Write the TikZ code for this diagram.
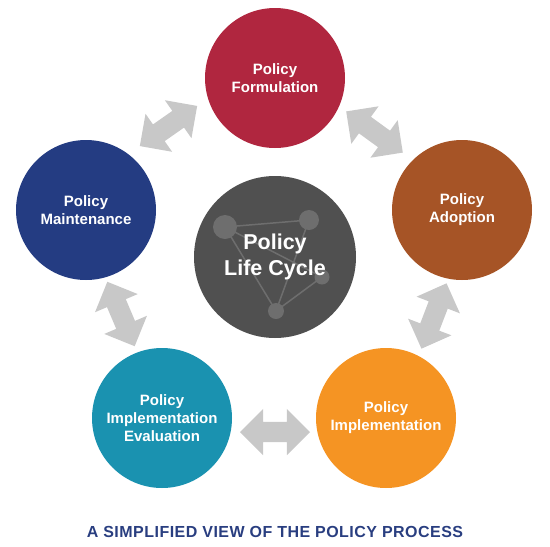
\documentclass[tikz,border=0pt]{standalone}
\usepackage{fontspec}
\setmainfont{Liberation Sans}
\usetikzlibrary{shapes.arrows,calc}

\definecolor{formred}{HTML}{B0263F}
\definecolor{adoptbrown}{HTML}{A65426}
\definecolor{implorange}{HTML}{F59423}
\definecolor{evalteal}{HTML}{1A92B0}
\definecolor{maintblue}{HTML}{243C82}
\definecolor{coregray}{HTML}{505050}
\definecolor{netgray}{HTML}{6E6E6E}
\definecolor{swapgray}{HTML}{C8C8C8}
\definecolor{titleblue}{HTML}{293E80}

\begin{document}
\begin{tikzpicture}[x=1pt, y=-1pt,
	stage/.style={circle, minimum size=140pt, inner sep=0pt, text=white, align=center, font=\bfseries\fontsize{15}{18}\selectfont},
	swap/.style={double arrow, fill=swapgray, inner sep=10pt, minimum width=46pt, minimum height=70pt, double arrow head extend=13pt}]
	\useasboundingbox (0,0) rectangle (550,547);
	% the five stages
	\node[stage, fill=formred] (form) at (275,78) {Policy\\Formulation};
	\node[stage, fill=adoptbrown] (adop) at (462,210) {Policy\\Adoption};
	\node[stage, fill=implorange] (impl) at (386,418) {Policy\\Implementation};
	\node[stage, fill=evalteal] (eval) at (162,418) {Policy\\Implementation\\Evaluation};
	\node[stage, fill=maintblue] (maint) at (86,210) {Policy\\Maintenance};
	% centre circle with its little network
	\node[circle, minimum size=162pt, inner sep=0pt, fill=coregray] (core) at (275,257) {};
	\coordinate (n1) at (225,227);
	\coordinate (n2) at (309,220);
	\coordinate (n3) at (322,277);
	\coordinate (n4) at (276,311);
	\draw[netgray, line width=1.5pt] (n1) -- (n2) -- (n4) -- (n1) -- (n3) -- (n4);
	\fill[netgray] (n1) circle (12pt) (n2) circle (10pt) (n3) circle (7.5pt) (n4) circle (8pt);
	\node[text=white, align=center, font=\bfseries\fontsize{21.5}{26}\selectfont] (cycle) at (core) {Policy\\Life Cycle};
	% double arrows between the stages
	\node[swap, rotate=35] (mf) at ($(maint)!.5!(form)+(-12,-18)$) {};
	\node[swap, rotate=-36] (fa) at ($(form)!.5!(adop)+(6,-12)$) {};
	\node[swap, rotate=69] (ai) at ($(adop)!.5!(impl)+(10,2)$) {};
	\node[swap] (ie) at ($(impl)!.5!(eval)+(1,14)$) {};
	\node[swap, rotate=-67] (em) at ($(eval)!.5!(maint)+(-3,0)$) {};
	% caption
	\node[text=titleblue, font=\bfseries\fontsize{16}{19}\selectfont\addfontfeatures{LetterSpace=3}] (caption) at (275,532) {A SIMPLIFIED VIEW OF THE POLICY PROCESS};
\end{tikzpicture}
\end{document}
